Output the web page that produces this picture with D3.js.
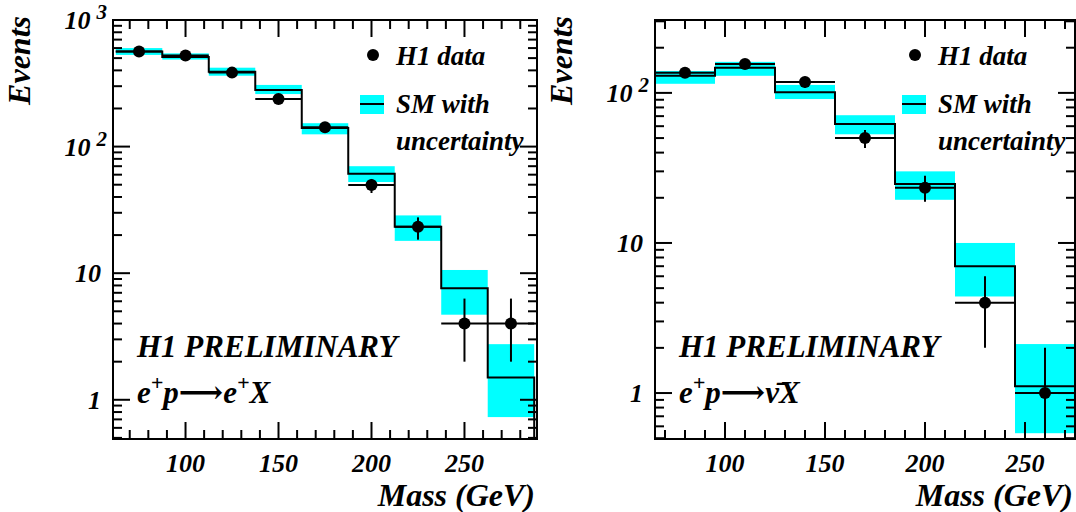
<!DOCTYPE html>
<html><head><meta charset="utf-8">
<script src="https://cdn.jsdelivr.net/npm/d3@7/dist/d3.min.js"></script>
<style>body{margin:0;background:#fff}svg text{font-family:'Liberation Serif','Times New Roman',Times,'DejaVu Serif',serif;font-weight:700;font-style:italic}</style>
</head><body><svg id="c" width="1076" height="512"></svg>
<script>
// Left panel: e+p -> e+X
const nc_edges = [62.5,87.5,112.5,137.5,162.5,187.5,212.5,237.5,262.5,287.5];
const nc_data = [565,525,384,238,142,49.7,23.3,4,4];
const nc_dataLo = [541,502,365,223,130,43,18.4,2,2];
const nc_dataHi = [589,548,403,253,154,55.5,27.6,6.3,6.3];
const nc_sm = [565,510,390,280,140,61,23.3,7.6,1.5];
const nc_smLo = [530,487,363,260,125,52.5,18,4.7,0.73];
const nc_smHi = [600,545,420,307,153,70,28.6,10.6,2.75];
// Right panel: e+p -> nubar X
const cc_edges = [65,95,125,155,185,215,245,275];
const cc_data = [136,156,118,50,23.3,4,1];
const cc_dataLo = [126,145,108,42.9,18.8,2,0.45];
const cc_dataHi = [146,167,128,56.6,28,6,2];
const cc_sm = [130,147,101,62,24.7,7.0,1.11];
const cc_smLo = [115,130,91,53,19.4,4.4,0.54];
const cc_smHi = [140,161,113,71,30,10,2.12];
const xTicks = [100,150,200,250];

const svg = d3.select("#c");
function panel(o){
  const g = svg.append("g");
  const x = d3.scaleLinear().domain(o.xd).range([o.x0,o.x1]);
  const y = d3.scaleLog().domain(o.yd).range([o.y1,o.y0]);
  const n = o.data.length;
  for(let i=0;i<n;i++){
    g.append("rect").attr("x",x(o.edges[i])).attr("width",x(o.edges[i+1])-x(o.edges[i]))
     .attr("y",y(o.smHi[i])).attr("height",y(o.smLo[i])-y(o.smHi[i])).attr("fill","#00ffff");
  }
  let p = "";
  for(let i=0;i<n;i++){
    p += (i?"L":"M")+x(o.edges[i])+","+y(o.sm[i])+"L"+x(o.edges[i+1])+","+y(o.sm[i]);
  }
  p += "L"+x(o.edges[n])+","+y(o.yd[0]);
  g.append("path").attr("d",p).attr("fill","none").attr("stroke","#000").attr("stroke-width",2);
  for(let i=0;i<n;i++){
    const cx=(x(o.edges[i])+x(o.edges[i+1]))/2, cy=y(o.data[i]);
    g.append("line").attr("x1",x(o.edges[i])).attr("x2",x(o.edges[i+1])).attr("y1",cy).attr("y2",cy).attr("stroke","#000").attr("stroke-width",2);
    g.append("line").attr("x1",cx).attr("x2",cx).attr("y1",y(Math.max(o.dataLo[i],o.yd[0]))).attr("y2",y(o.dataHi[i])).attr("stroke","#000").attr("stroke-width",2);
    g.append("circle").attr("cx",cx).attr("cy",cy).attr("r",6).attr("fill","#000");
  }
  g.append("rect").attr("x",o.x0).attr("y",o.y0).attr("width",o.x1-o.x0).attr("height",o.y1-o.y0).attr("fill","none").attr("stroke","#000").attr("stroke-width",2);
  for(let v=Math.ceil(o.xd[0]/10)*10; v<=o.xd[1]; v+=10){
    const L = v%50===0?17:9;
    g.append("line").attr("x1",x(v)).attr("x2",x(v)).attr("y1",o.y1).attr("y2",o.y1-L).attr("stroke","#000").attr("stroke-width",2);
    g.append("line").attr("x1",x(v)).attr("x2",x(v)).attr("y1",o.y0).attr("y2",o.y0+L).attr("stroke","#000").attr("stroke-width",2);
  }
  xTicks.forEach(v=>g.append("text").attr("x",x(v)).attr("y",o.y1+33).attr("text-anchor","middle").attr("font-size",26).text(v));
  for(let d=-1; d<=3; d++){
    for(let m=1;m<10;m++){
      const v=m*Math.pow(10,d);
      if(v<o.yd[0]||v>o.yd[1]) continue;
      const L = m===1?17:9;
      g.append("line").attr("x1",o.x0).attr("x2",o.x0+L).attr("y1",y(v)).attr("y2",y(v)).attr("stroke","#000").attr("stroke-width",2);
      g.append("line").attr("x1",o.x1).attr("x2",o.x1-L).attr("y1",y(v)).attr("y2",y(v)).attr("stroke","#000").attr("stroke-width",2);
    }
  }
  o.yLabels.forEach(([v,t,s])=>{
    const tx = g.append("text").attr("x",o.x0-12).attr("y",y(v)+9).attr("text-anchor","end").attr("font-size",26);
    if(s){ tx.append("tspan").text(t); tx.append("tspan").attr("dy",-10).attr("dx",6).attr("font-size",21).text(s); tx.attr("x",o.x0-6);}
    else tx.text(t);
  });
  g.append("text").attr("transform",`translate(${o.x0-83},${o.y0-4}) rotate(-90)`).attr("text-anchor","end").attr("font-size",32).text("Events");
  g.append("text").attr("x",o.x1-2).attr("y",506).attr("text-anchor","end").attr("font-size",32).text("Mass (GeV)");
  const lx=o.x0+247;
  g.append("circle").attr("cx",lx+13).attr("cy",o.y0+35).attr("r",6).attr("fill","#000");
  g.append("text").attr("x",lx+36).attr("y",o.y0+45).attr("font-size",27).text("H1 data");
  g.append("rect").attr("x",lx).attr("y",o.y0+75).attr("width",24).attr("height",19).attr("fill","#00ffff");
  g.append("line").attr("x1",lx).attr("x2",lx+24).attr("y1",o.y0+84).attr("y2",o.y0+84).attr("stroke","#000").attr("stroke-width",2);
  g.append("text").attr("x",lx+36).attr("y",o.y0+93).attr("font-size",27).text("SM with");
  g.append("text").attr("x",lx+36).attr("y",o.y0+130).attr("font-size",27).text("uncertainty");
  g.append("text").attr("x",o.x0+24).attr("y",o.y0+337).attr("font-size",31).text("H1 PRELIMINARY");
  const r = g.append("text").attr("x",o.x0+24).attr("y",o.y0+383).attr("font-size",31);
  o.reac(r);
}
panel({x0:113,x1:537,y0:20,y1:439,xd:[61,289],yd:[0.49,1000],edges:nc_edges,data:nc_data,dataLo:nc_dataLo,dataHi:nc_dataHi,sm:nc_sm,smLo:nc_smLo,smHi:nc_smHi,
  yLabels:[[1000,"10","3"],[100,"10","2"],[10,"10"],[1,"1"]],
  reac:t=>{t.append("tspan").text("e");t.append("tspan").attr("dy",-13).attr("font-size",22).text("+");t.append("tspan").attr("dy",13).text("p⟶e");t.append("tspan").attr("dy",-13).attr("font-size",22).text("+");t.append("tspan").attr("dy",13).text("X");}});
panel({x0:655,x1:1075,y0:20,y1:439,xd:[65,275],yd:[0.494,306],edges:cc_edges,data:cc_data,dataLo:cc_dataLo,dataHi:cc_dataHi,sm:cc_sm,smLo:cc_smLo,smHi:cc_smHi,
  yLabels:[[100,"10","2"],[10,"10"],[1,"1"]],
  reac:t=>{t.append("tspan").text("e");t.append("tspan").attr("dy",-13).attr("font-size",22).text("+");t.append("tspan").attr("dy",13).text("p⟶ν̄X");}});
</script></body></html>
